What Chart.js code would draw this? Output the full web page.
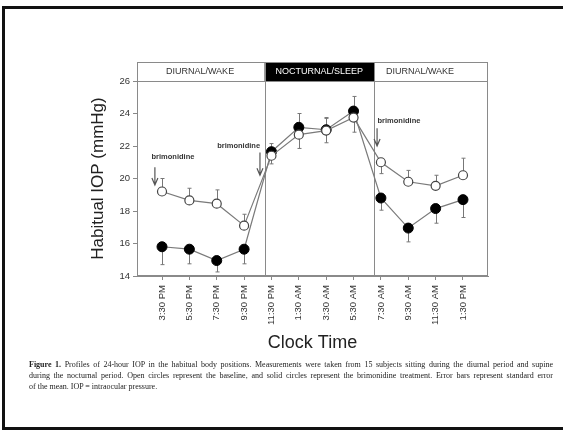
<!DOCTYPE html>
<html><head><meta charset="utf-8">
<script src="https://cdn.jsdelivr.net/npm/chart.js@4/dist/chart.umd.min.js"></script>
<style>
html,body{margin:0;padding:0;background:#fff;}
#wrap{position:relative;width:563px;height:430px;overflow:hidden;background:#fff;}
#frame{position:absolute;left:2px;top:6px;width:600px;height:418px;border:3px solid #111;box-sizing:content-box;}
canvas{position:absolute;left:0;top:0;}
.cap{position:absolute;left:29px;width:524px;font:8px "Liberation Serif","Times New Roman",serif;color:#222;white-space:nowrap;}
.j{text-align:justify;text-align-last:justify;}
</style></head>
<body><div id="wrap"><div id="frame"></div>
<canvas id="c" width="563" height="430"></canvas>
<div class="cap j" style="top:360px;"><b>Figure 1.</b> Profiles of 24-hour IOP in the habitual body positions. Measurements were taken from 15 subjects sitting during the diurnal period and supine</div>
<div class="cap j" style="top:371px;">during the nocturnal period. Open circles represent the baseline, and solid circles represent the brimonidine treatment. Error bars represent standard error</div>
<div class="cap" style="top:382px;">of the mean. IOP = intraocular pressure.</div>
</div>
<script>
const categories = ["3:30 PM","5:30 PM","7:30 PM","9:30 PM","11:30 PM","1:30 AM","3:30 AM","5:30 AM","7:30 AM","9:30 AM","11:30 AM","1:30 PM"];
const baseline   = [19.2, 18.65, 18.45, 17.1, 21.4, 22.7, 22.95, 23.75, 21.0, 19.8, 19.55, 20.2];
const brimonidine= [15.8, 15.65, 14.95, 15.65, 21.65, 23.15, 23.0, 24.15, 18.8, 16.95, 18.15, 18.7];
const baselineErrUp   = [0.8, 0.75, 0.85, 0.7, 0, 0, 0.75, 0, 0, 0.7, 0.65, 1.05];
const baselineErrDown = [0, 0, 0, 0, 0.5, 0.85, 0.75, 0.9, 0.7, 0, 0, 0];
const brimErrUp   = [0, 0, 0, 0, 0.5, 0.85, 0.75, 0.9, 0, 0, 0, 0];
const brimErrDown = [1.1, 0.9, 0.7, 0.9, 0, 0, 0, 0, 0.75, 0.85, 0.9, 1.1];
const yTicks = [14,16,18,20,22,24,26];
const periods = [
  {label:"DIURNAL/WAKE", from:-0.914, to:3.75, textAt:1.39, dark:false},
  {label:"NOCTURNAL/SLEEP", from:3.75, to:7.75, textAt:5.75, dark:true},
  {label:"DIURNAL/WAKE", from:7.75, to:11.914, textAt:9.43, dark:false}
];
const annotations = [
  {text:"brimonidine", tx:0.4, ty:21.3, ax:-0.26, ay1:20.7, ay2:19.6},
  {text:"brimonidine", tx:2.8, ty:22.0, ax:3.58, ay1:21.6, ay2:20.2},
  {text:"brimonidine", tx:8.66, ty:23.55, ax:7.86, ay1:23.1, ay2:22.0}
];

const pts = arr => arr.map((v,i)=>({x:i,y:v}));

const decor = {
  id:'decor',
  beforeDatasetsDraw(chart){
    const {ctx, chartArea:a, scales:{x,y}} = chart;
    ctx.save();
    const hTop = a.top - 19;
    ctx.lineWidth = 1;
    periods.forEach(p=>{
      const x1 = x.getPixelForValue(p.from), x2 = x.getPixelForValue(p.to);
      if(p.dark){ ctx.fillStyle='#000'; ctx.fillRect(x1, hTop, x2-x1, a.top-hTop); }
      ctx.fillStyle = p.dark ? '#fff' : '#333';
      ctx.font = '9px "Liberation Sans", Arial, sans-serif';
      ctx.textAlign='center'; ctx.textBaseline='middle';
      ctx.fillText(p.label, x.getPixelForValue(p.textAt), (hTop+a.top)/2+0.5);
    });
    ctx.strokeStyle='#8a8a8a';
    ctx.strokeRect(a.left+0.5, hTop+0.5, a.right-a.left-1, a.bottom-hTop-1);
    ctx.beginPath(); ctx.moveTo(a.left, a.top+0.5); ctx.lineTo(a.right, a.top+0.5); ctx.stroke();
    [3.75, 7.75].forEach(v=>{
      const px = Math.round(x.getPixelForValue(v))+0.5;
      ctx.beginPath(); ctx.moveTo(px, hTop); ctx.lineTo(px, a.bottom); ctx.stroke();
    });
    ctx.strokeStyle='#777'; ctx.lineWidth=1;
    const eb = (vals, up, dn) => vals.forEach((v,i)=>{
      const px = Math.round(x.getPixelForValue(i))+0.5;
      [[up[i],1],[dn[i],-1]].forEach(([e,s])=>{
        if(!e) return;
        const y0 = y.getPixelForValue(v), y1 = y.getPixelForValue(v + s*e);
        ctx.beginPath(); ctx.moveTo(px,y0); ctx.lineTo(px,y1);
        ctx.moveTo(px-2,y1); ctx.lineTo(px+2,y1); ctx.stroke();
      });
    });
    eb(baseline, baselineErrUp, baselineErrDown);
    eb(brimonidine, brimErrUp, brimErrDown);
    annotations.forEach(an=>{
      ctx.fillStyle='#333';
      ctx.font='bold 7.5px "Liberation Sans", Arial, sans-serif';
      ctx.textAlign='center'; ctx.textBaseline='middle';
      ctx.fillText(an.text, x.getPixelForValue(an.tx), y.getPixelForValue(an.ty));
      const ax = x.getPixelForValue(an.ax), y1=y.getPixelForValue(an.ay1), y2=y.getPixelForValue(an.ay2);
      ctx.strokeStyle='#555'; ctx.lineWidth=1.2;
      ctx.beginPath(); ctx.moveTo(ax,y1); ctx.lineTo(ax,y2);
      ctx.moveTo(ax-3,y2-7); ctx.lineTo(ax,y2); ctx.lineTo(ax+3,y2-7); ctx.stroke();
    });
    ctx.restore();
  }
};

new Chart(document.getElementById('c'), {
  type:'line',
  data:{datasets:[
    {label:'Baseline', data:pts(baseline), borderColor:'#7a7a7a', borderWidth:1.2, pointRadius:4.5, pointBackgroundColor:'#fff', pointBorderColor:'#444', pointBorderWidth:1.2, tension:0},
    {label:'Brimonidine', data:pts(brimonidine), borderColor:'#7a7a7a', borderWidth:1.2, pointRadius:5, pointBackgroundColor:'#000', pointBorderColor:'#000', pointBorderWidth:1, tension:0}
  ]},
  options:{
    responsive:false, animation:false, devicePixelRatio:1,
    layout:{padding:{left:0,right:75,top:81,bottom:70}},
    plugins:{legend:{display:false}, tooltip:{enabled:false}},
    scales:{
      x:{type:'linear', min:-0.914, max:11.914,
        afterBuildTicks(s){ s.ticks = categories.map((c,i)=>({value:i})); },
        afterFit(s){ s.height = 84; },
        ticks:{autoSkip:false, minRotation:90, maxRotation:90, padding:5, color:'#333',
          font:{family:'"Liberation Sans", Arial, sans-serif', size:9.5},
          callback:(v)=>categories[v]},
        grid:{display:true, drawOnChartArea:false, tickLength:4, color:'#888'},
        border:{display:true, color:'#8a8a8a'},
        title:{display:true, text:'Clock Time', color:'#222', padding:{top:0,bottom:6},
          font:{family:'"Liberation Sans", Arial, sans-serif', size:18}}
      },
      y:{type:'linear', min:14, max:26,
        afterBuildTicks(s){ s.ticks = yTicks.map(v=>({value:v})); },
        afterFit(s){ s.width = 137; },
        ticks:{padding:3, color:'#333', font:{family:'"Liberation Sans", Arial, sans-serif', size:9.5}},
        grid:{display:true, drawOnChartArea:false, tickLength:4, color:'#888'},
        border:{display:true, color:'#8a8a8a'},
        title:{display:true, text:'Habitual IOP (mmHg)', color:'#222', padding:{top:88,bottom:0},
          font:{family:'"Liberation Sans", Arial, sans-serif', size:17}}
      }
    }
  },
  plugins:[decor]
});
</script>
</body></html>
